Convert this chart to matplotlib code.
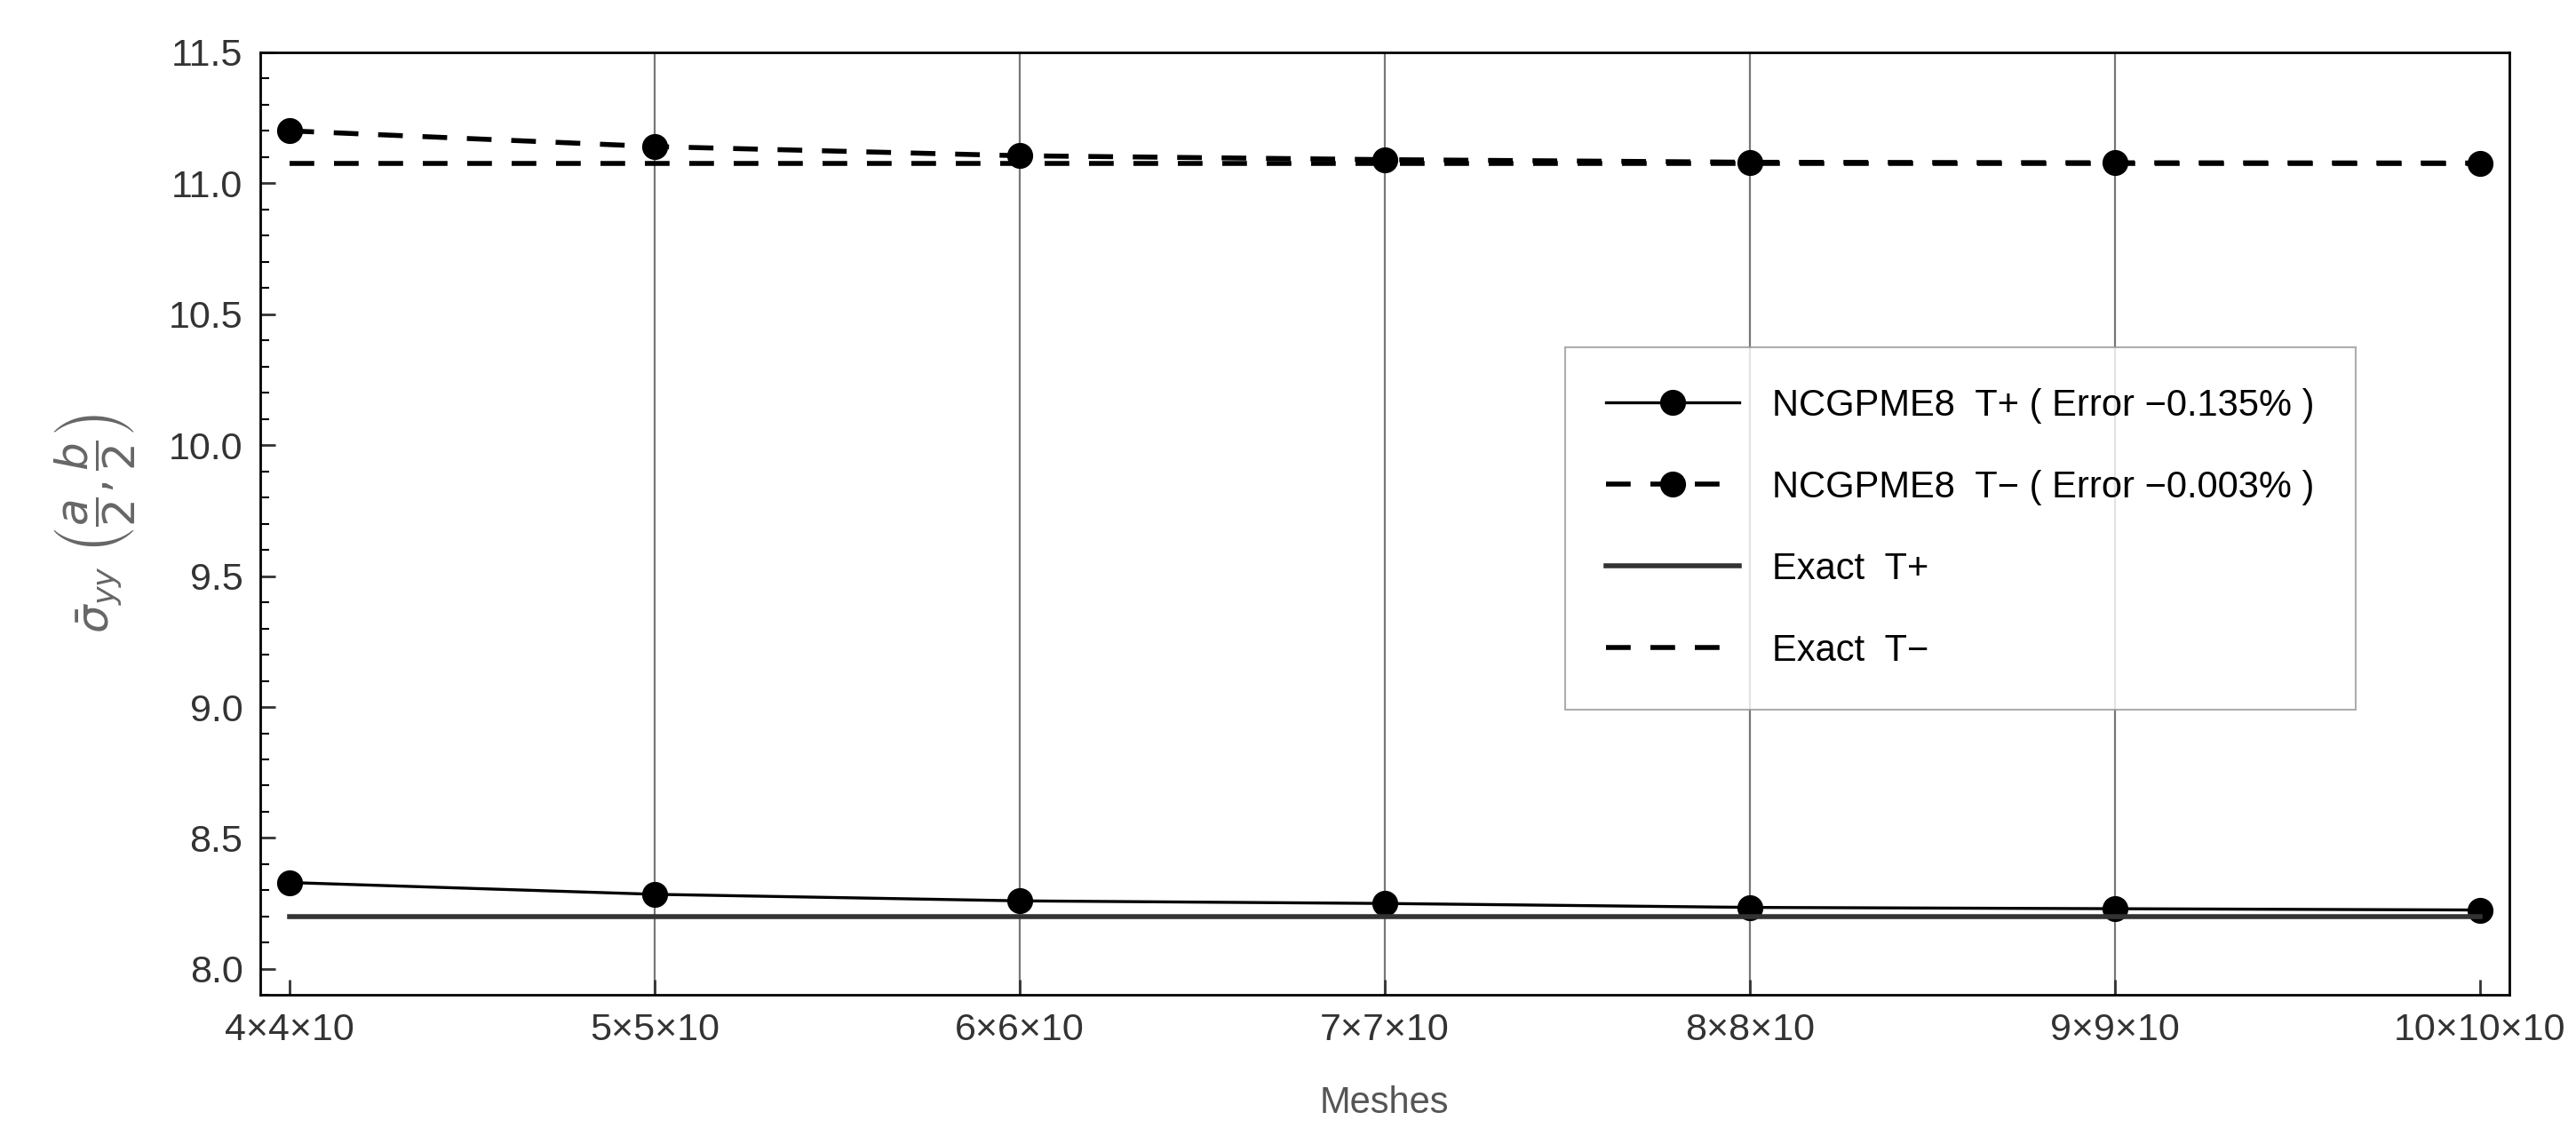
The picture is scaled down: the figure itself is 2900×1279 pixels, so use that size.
import matplotlib
matplotlib.use("Agg")
import matplotlib.pyplot as plt
from matplotlib.ticker import MultipleLocator

x = [4, 5, 6, 7, 8, 9, 10]
xlabels = ["4×4×10", "5×5×10", "6×6×10", "7×7×10", "8×8×10", "9×9×10", "10×10×10"]
tplus = [8.33, 8.285, 8.26, 8.25, 8.235, 8.23, 8.225]
tminus = [11.20, 11.14, 11.105, 11.09, 11.08, 11.078, 11.077]
exact_plus = 8.2
exact_minus = 11.075

plt.rcParams['font.family'] = ['Liberation Sans', 'DejaVu Sans']
fig = plt.figure(figsize=(29, 12.79), dpi=100)
ax = fig.add_axes([0.101, 0.124, 0.873, 0.83])
for xv in x[1:-1]:
    ax.axvline(xv, color='#777777', lw=1.6, zorder=0)
ax.plot(x, tplus, '-', color='black', lw=2.4, marker='o', ms=20, label='NCGPME8  T+ ( Error −0.135% )')
ax.plot(x, tminus, '--', color='black', lw=4, dashes=(5, 4), marker='o', ms=20, label='NCGPME8  T− ( Error −0.003% )')
ax.plot([x[0], x[-1]], [exact_plus]*2, '-', color='#333333', lw=4, label='Exact  T+')
ax.plot([x[0], x[-1]], [exact_minus]*2, '--', color='black', lw=4, dashes=(5, 4), label='Exact  T−')
ax.set_xlim(3.92, 10.08)
ax.set_ylim(7.9, 11.5)
ax.set_xticks(x)
ax.set_xticklabels(xlabels)
ax.yaxis.set_major_locator(MultipleLocator(0.5))
ax.yaxis.set_minor_locator(MultipleLocator(0.1))
ax.yaxis.set_major_formatter(matplotlib.ticker.FormatStrFormatter('%.1f'))
ax.tick_params(labelsize=31, colors='#333333', width=2, length=12, direction='in', pad=14)
ax.tick_params(which='minor', width=1.5, length=7, direction='in')
for s in ax.spines.values():
    s.set_linewidth(2)
ax.set_xlabel('Meshes', fontsize=30, color='#555555', labelpad=30)
ax.set_ylabel(r'$\bar{\sigma}_{yy}\ \left(\dfrac{a}{2},\dfrac{b}{2}\right)$', fontsize=36, color='#666666', labelpad=25)
leg = ax.legend(loc='upper left', bbox_to_anchor=(0.572, 0.707), fontsize=30, frameon=True,
                fancybox=False, edgecolor='#999999', handlelength=3.6, labelspacing=1.25,
                borderpad=1.1, handletextpad=0.9)
leg.get_frame().set_linewidth(1.5)
fig.savefig('out.png', dpi=100)
